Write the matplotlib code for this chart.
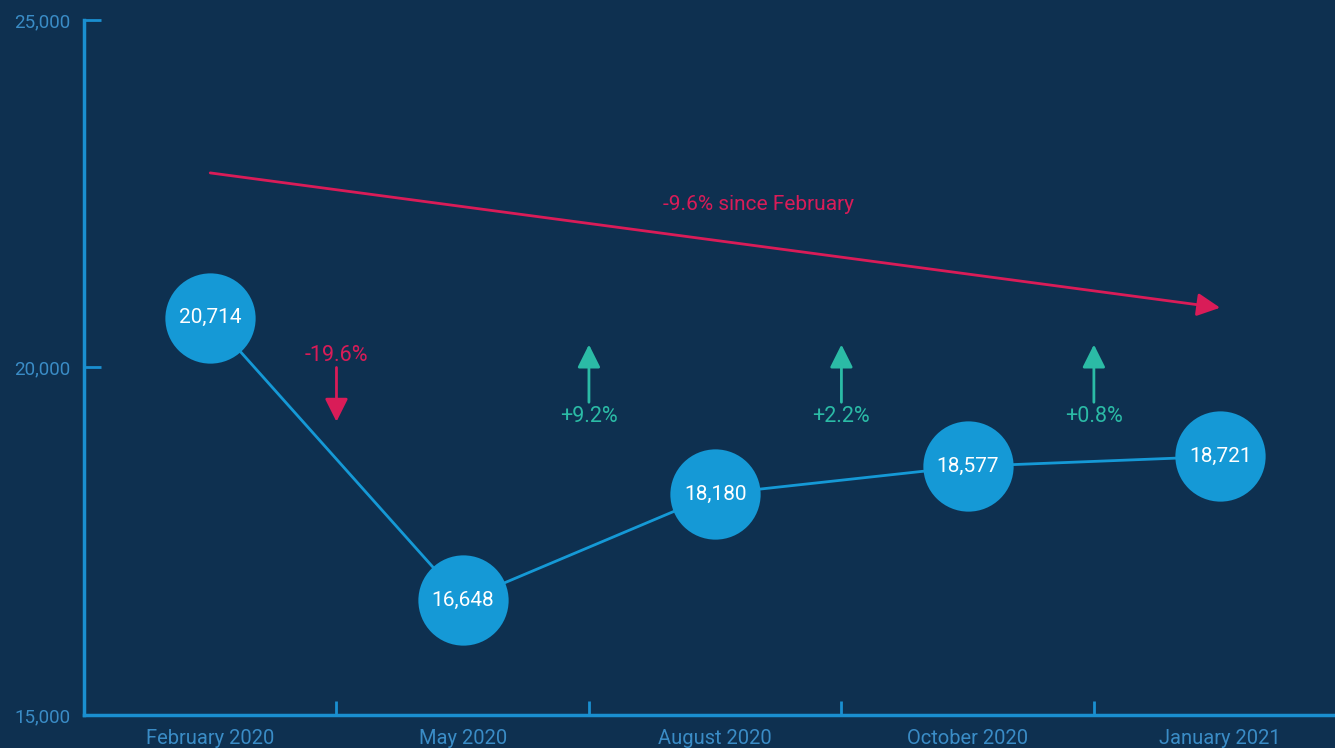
import matplotlib
matplotlib.use('Agg')
import matplotlib.pyplot as plt

plt.rcParams['font.family'] = ['Roboto', 'DejaVu Sans']

months = ['February 2020', 'May 2020', 'August 2020', 'October 2020', 'January 2021']
values = [20714, 16648, 18180, 18577, 18721]
changes = ['-19.6%', '+9.2%', '+2.2%', '+0.8%']
trend_start = 22800
trend_end = 20860
trend_label = '-9.6% since February'

bg = '#0e3050'
blue = '#1599d6'
axis_col = '#1a8fd0'
label_col = '#3a8cc6'
red = '#d91c58'
teal = '#2bbba6'

fig = plt.figure(figsize=(13.35, 7.48), dpi=100, facecolor=bg)
ax = fig.add_axes([84 / 1335, 33 / 748, 1 - 84 / 1335, 695 / 748])
ax.set_facecolor(bg)

x = list(range(len(months)))
ax.plot(x, values, '-', color=blue, lw=2, zorder=2)
ax.plot(x, values, 'o', color=blue, ms=65, mec='none', zorder=3)
for i, v in enumerate(values):
    ax.text(i, v, f'{v:,}', color='white', ha='center', va='center', fontsize=15, zorder=4)

head = '-|>,head_length=1.4,head_width=0.7'

# trend arrow
ax.annotate('', xy=(4, trend_end), xytext=(0, trend_start),
            arrowprops=dict(arrowstyle=head, color=red, lw=2, shrinkA=0, shrinkB=0))
ax.text(2.17, 22350, trend_label, color=red, ha='center', va='center', fontsize=15)

# period change arrows
for i, c in enumerate(changes):
    xm = i + 0.5
    if c.startswith('-'):
        ax.annotate('', xy=(xm, 19220), xytext=(xm, 20000),
                    arrowprops=dict(arrowstyle=head, color=red, lw=2, shrinkA=0, shrinkB=0))
        ax.text(xm, 20170, c, color=red, ha='center', va='center', fontsize=15.5)
    else:
        ax.annotate('', xy=(xm, 20330), xytext=(xm, 19500),
                    arrowprops=dict(arrowstyle=head, color=teal, lw=2, shrinkA=0, shrinkB=0))
        ax.text(xm, 19290, c, color=teal, ha='center', va='center', fontsize=15.5)

ax.set_xlim(-0.5, 4.455)
ax.set_ylim(15000, 25000)
ax.set_yticks([15000, 20000, 25000])
ax.set_yticklabels(['15,000', '20,000', '25,000'])
ax.set_xticks(x)
ax.set_xticklabels(months)
ax.set_xticks([0.5, 1.5, 2.5, 3.5], minor=True)
ax.tick_params(axis='x', which='major', length=0, pad=10, labelcolor=label_col, labelsize=14.5)
ax.tick_params(axis='x', which='minor', direction='in', length=10, width=2, color=axis_col)
ax.tick_params(axis='y', direction='in', length=12, width=2, color=axis_col,
               labelcolor=label_col, labelsize=13.5, pad=10)
for s in ['top', 'right']:
    ax.spines[s].set_visible(False)
for s in ['left', 'bottom']:
    ax.spines[s].set_color(axis_col)
    ax.spines[s].set_linewidth(2.5)

fig.savefig('out.png', dpi=100, facecolor=bg)
